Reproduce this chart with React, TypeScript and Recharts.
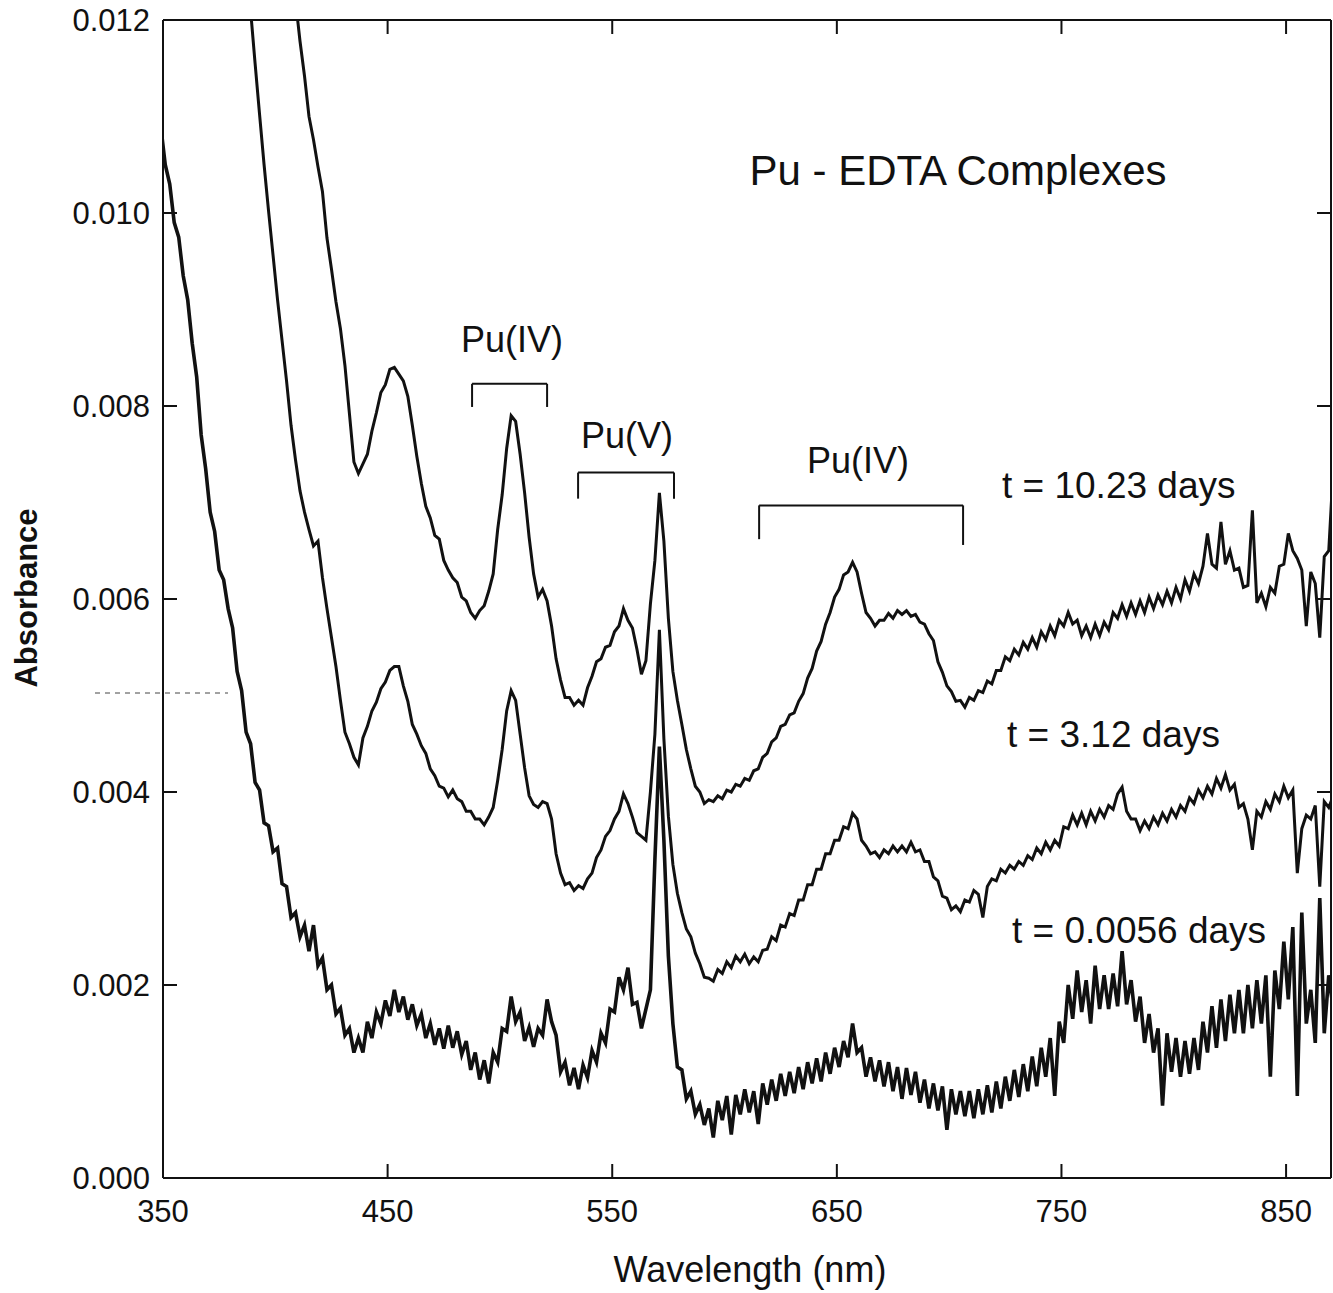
import { LineChart, Line, XAxis, YAxis, ReferenceLine } from 'recharts'

// Wavelength grid, nm (every 2 nm from 349 to 875)
const START_NM = 349
const STEP_NM = 2

// Absorbance in units of 1e-3, one value per grid point, rows of 20 nm
const t10Days = [
  25.6, 25.15, 24.7, 24.25, 23.8, 23.35, 22.9, 22.45, 22.0, 21.55,
  21.1, 20.65, 20.2, 19.75, 19.3, 18.85, 18.4, 17.95, 17.5, 17.05,
  16.6, 16.15, 15.7, 15.25, 14.8, 14.35, 13.9, 13.45, 13.0, 12.6,
  12.2, 11.78, 11.42, 11.0, 10.76, 10.48, 10.22, 9.74, 9.42, 9.08,
  8.8, 8.42, 7.92, 7.42, 7.3, 7.4, 7.5, 7.74, 7.93, 8.14,
  8.22, 8.38, 8.4, 8.33, 8.26, 8.1, 7.8, 7.48, 7.2, 6.96,
  6.84, 6.66, 6.62, 6.4, 6.3, 6.22, 6.17, 6.02, 5.98, 5.86,
  5.8, 5.88, 5.93, 6.08, 6.26, 6.72, 7.08, 7.56, 7.9, 7.84,
  7.5, 7.1, 6.64, 6.26, 6.02, 6.1, 5.98, 5.72, 5.38, 5.16,
  4.98, 4.98, 4.9, 4.95, 4.9, 5.08, 5.2, 5.35, 5.38, 5.5,
  5.52, 5.66, 5.72, 5.9, 5.78, 5.7, 5.48, 5.22, 5.36, 5.95,
  6.4, 7.1, 6.6, 5.8, 5.25, 4.95, 4.7, 4.44, 4.24, 4.06,
  4.0, 3.88, 3.92, 3.9, 3.96, 3.93, 4.02, 4.0, 4.08, 4.06,
  4.14, 4.12, 4.22, 4.24, 4.36, 4.4, 4.52, 4.56, 4.68, 4.7,
  4.8, 4.82, 4.94, 5.02, 5.18, 5.28, 5.46, 5.56, 5.74, 5.86,
  6.02, 6.1, 6.25, 6.28, 6.38, 6.28, 6.06, 5.86, 5.8, 5.72,
  5.78, 5.78, 5.85, 5.8, 5.88, 5.84, 5.88, 5.82, 5.84, 5.76,
  5.74, 5.64, 5.57, 5.35, 5.24, 5.1, 5.04, 4.94, 4.95, 4.88,
  4.98, 4.95, 5.05, 5.03, 5.15, 5.12, 5.26, 5.26, 5.4, 5.36,
  5.48, 5.42, 5.55, 5.48, 5.6, 5.5, 5.66, 5.58, 5.72, 5.62,
  5.78, 5.72, 5.86, 5.74, 5.78, 5.62, 5.72, 5.6, 5.74, 5.62,
  5.76, 5.68, 5.86, 5.8, 5.94, 5.82, 5.96, 5.84, 5.98, 5.86,
  6.02, 5.9, 6.04, 5.94, 6.08, 5.96, 6.12, 6.0, 6.2, 6.08,
  6.26, 6.16, 6.34, 6.68, 6.36, 6.32, 6.8, 6.36, 6.5, 6.3,
  6.32, 6.12, 6.14, 6.92, 5.96, 6.06, 5.92, 6.12, 6.06, 6.34,
  6.36, 6.68, 6.5, 6.42, 6.3, 5.72, 6.28, 6.16, 5.6, 6.44,
  6.5, 7.35, 6.1, 6.3,
]

const t3Days = [
  23.3, 22.74, 22.18, 21.62, 21.06, 20.5, 19.94, 19.38, 18.82, 18.26,
  17.7, 17.14, 16.58, 16.02, 15.46, 14.9, 14.34, 13.78, 13.22, 12.66,
  12.1, 11.55, 11.02, 10.5, 10.02, 9.56, 9.1, 8.68, 8.26, 7.8,
  7.44, 7.12, 6.9, 6.72, 6.55, 6.6, 6.22, 5.9, 5.6, 5.3,
  4.95, 4.62, 4.5, 4.36, 4.28, 4.56, 4.68, 4.84, 4.93, 5.07,
  5.14, 5.26, 5.3, 5.3, 5.1, 4.94, 4.7, 4.6, 4.48, 4.4,
  4.24, 4.17, 4.06, 4.04, 3.95, 4.02, 3.93, 3.9, 3.8, 3.8,
  3.72, 3.72, 3.66, 3.74, 3.84, 4.12, 4.44, 4.84, 5.05, 4.95,
  4.6, 4.25, 3.96, 3.87, 3.84, 3.9, 3.88, 3.72, 3.36, 3.16,
  3.04, 3.06, 2.98, 3.03, 3.0, 3.1, 3.16, 3.32, 3.4, 3.54,
  3.6, 3.72, 3.8, 3.98, 3.88, 3.74, 3.58, 3.54, 3.5, 4.0,
  4.6, 5.68, 4.55, 3.75, 3.25, 2.95, 2.75, 2.58, 2.5, 2.33,
  2.22, 2.08, 2.07, 2.04, 2.16, 2.12, 2.24, 2.18, 2.3, 2.24,
  2.32, 2.22, 2.29, 2.24, 2.36, 2.37, 2.5, 2.46, 2.62, 2.6,
  2.74, 2.72, 2.88, 2.88, 3.04, 3.04, 3.2, 3.2, 3.36, 3.36,
  3.5, 3.5, 3.64, 3.62, 3.78, 3.72, 3.5, 3.44, 3.36, 3.38,
  3.32, 3.4, 3.36, 3.44, 3.38, 3.44, 3.38, 3.48, 3.38, 3.4,
  3.28, 3.28, 3.12, 3.08, 2.92, 2.9, 2.78, 2.82, 2.76, 2.88,
  2.86, 2.98, 2.94, 2.7, 3.02, 3.1, 3.08, 3.2, 3.16, 3.24,
  3.2, 3.28, 3.24, 3.34, 3.3, 3.42, 3.36, 3.48, 3.4, 3.5,
  3.44, 3.64, 3.62, 3.76, 3.66, 3.78, 3.66, 3.8, 3.7, 3.82,
  3.74, 3.86, 3.82, 3.98, 4.05, 3.8, 3.72, 3.72, 3.6, 3.7,
  3.62, 3.74, 3.66, 3.78, 3.7, 3.82, 3.74, 3.86, 3.8, 3.94,
  3.88, 4.02, 3.94, 4.06, 3.98, 4.14, 4.04, 4.18, 4.02, 4.08,
  3.84, 3.88, 3.72, 3.4, 3.8, 3.74, 3.9, 3.82, 3.98, 3.9,
  4.06, 3.94, 4.02, 3.16, 3.62, 3.76, 3.72, 3.86, 3.02, 3.9,
  3.84, 3.96, 3.82, 3.88,
]

const t0056Days = [
  10.9, 10.5, 10.3, 9.9, 9.75, 9.35, 9.1, 8.65, 8.3, 7.7,
  7.35, 6.9, 6.7, 6.3, 6.2, 5.9, 5.7, 5.25, 5.05, 4.62,
  4.5, 4.1, 4.02, 3.68, 3.65, 3.38, 3.42, 3.05, 3.02, 2.7,
  2.75, 2.5, 2.62, 2.35, 2.62, 2.2, 2.28, 1.95, 2.0, 1.7,
  1.76, 1.48, 1.55, 1.3, 1.45, 1.3, 1.62, 1.45, 1.72, 1.6,
  1.84, 1.68, 1.95, 1.72, 1.88, 1.64, 1.8, 1.58, 1.7, 1.45,
  1.6, 1.38, 1.55, 1.34, 1.58, 1.35, 1.52, 1.28, 1.42, 1.12,
  1.3, 1.02, 1.22, 0.98, 1.3, 1.2, 1.55, 1.52, 1.88, 1.62,
  1.72, 1.42, 1.56, 1.36, 1.55, 1.48, 1.85, 1.62, 1.48, 1.1,
  1.2, 0.96, 1.14, 0.92, 1.17, 1.04, 1.32, 1.2, 1.5, 1.4,
  1.75, 1.72, 2.08, 1.95, 2.18, 1.8, 1.82, 1.55, 1.75, 1.95,
  3.3, 4.47, 3.5, 2.3, 1.6, 1.15, 1.12, 0.82, 0.9, 0.66,
  0.76, 0.55, 0.72, 0.42, 0.8, 0.6, 0.85, 0.45, 0.86, 0.66,
  0.92, 0.68, 0.9, 0.56, 0.98, 0.76, 1.02, 0.8, 1.08, 0.85,
  1.1, 0.88, 1.15, 0.92, 1.2, 0.98, 1.24, 1.0, 1.3, 1.08,
  1.35, 1.15, 1.42, 1.25, 1.6, 1.3, 1.35, 1.05, 1.25, 1.0,
  1.22, 0.95, 1.2, 0.9, 1.15, 0.82, 1.14, 0.86, 1.1, 0.78,
  1.02, 0.72, 0.98, 0.7, 0.95, 0.5, 0.92, 0.66, 0.9, 0.64,
  0.9, 0.62, 0.92, 0.66, 0.96, 0.68, 1.0, 0.72, 1.05, 0.8,
  1.12, 0.84, 1.18, 0.9, 1.26, 0.95, 1.35, 1.05, 1.45, 0.85,
  1.62, 1.4, 2.0, 1.65, 2.15, 1.72, 2.05, 1.6, 2.2, 1.75,
  2.1, 1.75, 2.12, 1.78, 2.35, 1.8, 2.05, 1.62, 1.88, 1.4,
  1.7, 1.3, 1.55, 0.75, 1.5, 1.1, 1.45, 1.05, 1.42, 1.08,
  1.45, 1.12, 1.62, 1.3, 1.78, 1.35, 1.85, 1.42, 1.9, 1.5,
  1.95, 1.5, 2.0, 1.55, 2.05, 1.6, 2.1, 1.05, 2.15, 1.75,
  2.45, 1.85, 2.6, 0.85, 2.75, 1.6, 1.95, 1.4, 2.9, 1.5,
  2.1, 1.75, 2.05, 1.9,
]

const xTicks = [350, 450, 550, 650, 750, 850]
const yTicks = [0, 2, 4, 6, 8, 10, 12]

// bracket spans (nm) and levels (1e-3 absorbance)
const brackets = [
  { from: 487.6, to: 521.0, top: 8.23, leftEnd: 7.99, rightEnd: 7.99 },
  { from: 534.8, to: 577.5, top: 7.31, leftEnd: 7.04, rightEnd: 7.04 },
  { from: 615.4, to: 706.2, top: 6.97, leftEnd: 6.62, rightEnd: 6.56 },
]

const rows = t10Days.map((v, i) => ({
  nm: START_NM + i * STEP_NM,
  late: v,
  mid: t3Days[i],
  early: t0056Days[i],
}))

const FONT = "'Liberation Sans', Arial, Helvetica, sans-serif"
const INK = '#111'

export default function App() {
  const tick = { fontSize: 31, fill: INK, fontFamily: FONT }
  const line = { stroke: INK, strokeWidth: 2 }
  const blank = () => ''
  return (
    <div style={{ position: 'absolute', left: 0, top: 0, width: 1333, height: 1293, background: '#fff', overflow: 'hidden' }}>
      <LineChart width={1333} height={1293} data={rows} margin={{ top: 19, right: 1, bottom: 0, left: 0 }}>
        <XAxis
          dataKey="nm"
          type="number"
          domain={[350, 870]}
          allowDataOverflow
          ticks={xTicks}
          interval={0}
          height={115}
          tickSize={-14}
          tickMargin={36}
          tick={tick}
          axisLine={line}
          tickLine={line}
        />
        <XAxis
          xAxisId="top"
          orientation="top"
          dataKey="nm"
          type="number"
          domain={[350, 870]}
          allowDataOverflow
          ticks={xTicks}
          interval={0}
          height={1}
          tickSize={-14}
          tick={tick}
          tickFormatter={blank}
          axisLine={line}
          tickLine={line}
        />
        <YAxis
          type="number"
          domain={[0, 12]}
          allowDataOverflow
          ticks={yTicks}
          interval={0}
          width={163}
          tickSize={-14}
          tickMargin={27}
          tick={tick}
          tickFormatter={(v) => (v / 1000).toFixed(3)}
          axisLine={line}
          tickLine={line}
        />
        <YAxis
          yAxisId="right"
          orientation="right"
          type="number"
          domain={[0, 12]}
          allowDataOverflow
          ticks={yTicks}
          interval={0}
          width={1}
          tickSize={-14}
          tick={tick}
          tickFormatter={blank}
          axisLine={line}
          tickLine={line}
        />
        <Line dataKey="late" type="linear" stroke={INK} strokeWidth={3} dot={false} isAnimationActive={false} />
        <Line dataKey="mid" type="linear" stroke={INK} strokeWidth={3} dot={false} isAnimationActive={false} />
        <Line dataKey="early" type="linear" stroke={INK} strokeWidth={3.6} dot={false} isAnimationActive={false} />
        {brackets.map((b, i) => [
          <ReferenceLine key={`h${i}`} segment={[{ x: b.from, y: b.top }, { x: b.to, y: b.top }]} stroke={INK} strokeWidth={2} ifOverflow="visible" />,
          <ReferenceLine key={`l${i}`} segment={[{ x: b.from, y: b.top }, { x: b.from, y: b.leftEnd }]} stroke={INK} strokeWidth={2} ifOverflow="visible" />,
          <ReferenceLine key={`r${i}`} segment={[{ x: b.to, y: b.top }, { x: b.to, y: b.rightEnd }]} stroke={INK} strokeWidth={2} ifOverflow="visible" />,
        ])}
      </LineChart>
      <svg width={1333} height={1293} style={{ position: 'absolute', left: 0, top: 0, pointerEvents: 'none' }} fontFamily={FONT} fill={INK}>
        <line x1={95} y1={693} x2={228} y2={693} stroke="#444" strokeWidth={1} strokeDasharray="5 5" />
        <text x={958} y={185} textAnchor="middle" fontSize={42}>Pu - EDTA Complexes</text>
        <text x={512} y={352} textAnchor="middle" fontSize={36}>Pu(IV)</text>
        <text x={627} y={448} textAnchor="middle" fontSize={36}>Pu(V)</text>
        <text x={858} y={473} textAnchor="middle" fontSize={36}>Pu(IV)</text>
        <text x={1002} y={498} fontSize={37}>t = 10.23 days</text>
        <text x={1007} y={747} fontSize={37}>t = 3.12 days</text>
        <text x={1012} y={943} fontSize={37}>t = 0.0056 days</text>
        <text x={750} y={1282} textAnchor="middle" fontSize={36}>Wavelength (nm)</text>
        <text transform="translate(37,598) rotate(-90)" textAnchor="middle" fontSize={31} fontWeight="bold">Absorbance</text>
      </svg>
    </div>
  )
}
